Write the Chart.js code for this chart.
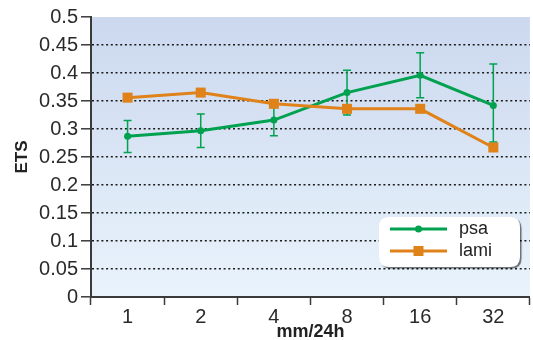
<!DOCTYPE html>
<html>
<head>
<meta charset="utf-8">
<script src="https://cdn.jsdelivr.net/npm/chart.js@4/dist/chart.umd.min.js"></script>
<style>
html,body{margin:0;padding:0;overflow:hidden;background:#fff;}
#wrap{width:537px;height:340px;position:relative;}
</style>
</head>
<body>
<div id="wrap"><canvas id="c"></canvas></div>
<script>
const categories = ['1', '2', '4', '8', '16', '32'];
const psaValues = [0.287, 0.297, 0.316, 0.365, 0.396, 0.342];
const psaLow    = [0.258, 0.267, 0.288, 0.325, 0.356, 0.277];
const psaHigh   = [0.315, 0.327, 0.345, 0.405, 0.436, 0.416];
const lamiValues = [0.356, 0.365, 0.345, 0.336, 0.336, 0.267];
const seriesNames = ['psa', 'lami'];
const xTitle = 'mm/24h';
const yTitle = 'ETS';
const yMin = 0, yMax = 0.5, yStep = 0.05;

const GREEN = '#00a14f';
const ORANGE = '#e0821a';
const FONT = '"Liberation Sans", Arial, sans-serif';

const bgPlugin = {
  id: 'bg',
  beforeDraw(chart) {
    const {ctx, chartArea: a} = chart;
    const g = ctx.createLinearGradient(0, a.top, 0, a.bottom);
    g.addColorStop(0, '#cbd8ee');
    g.addColorStop(1, '#e9f3fc');
    ctx.save();
    ctx.fillStyle = g;
    ctx.fillRect(a.left, a.top, a.right - a.left, a.bottom - a.top);
    ctx.restore();
  }
};

const errPlugin = {
  id: 'err',
  beforeDatasetsDraw(chart) {
    const {ctx} = chart;
    const xs = chart.scales.x, ys = chart.scales.y;
    ctx.save();
    ctx.strokeStyle = GREEN;
    ctx.lineWidth = 1.5;
    for (let i = 0; i < categories.length; i++) {
      const x = xs.getPixelForValue(i);
      const y1 = ys.getPixelForValue(psaLow[i]);
      const y2 = ys.getPixelForValue(psaHigh[i]);
      ctx.beginPath();
      ctx.moveTo(x, y1); ctx.lineTo(x, y2);
      ctx.moveTo(x - 4, y1); ctx.lineTo(x + 4, y1);
      ctx.moveTo(x - 4, y2); ctx.lineTo(x + 4, y2);
      ctx.stroke();
    }
    ctx.restore();
  }
};

function roundRect(ctx, x, y, w, h, r) {
  ctx.beginPath();
  ctx.moveTo(x + r, y);
  ctx.lineTo(x + w - r, y);
  ctx.quadraticCurveTo(x + w, y, x + w, y + r);
  ctx.lineTo(x + w, y + h - r);
  ctx.quadraticCurveTo(x + w, y + h, x + w - r, y + h);
  ctx.lineTo(x + r, y + h);
  ctx.quadraticCurveTo(x, y + h, x, y + h - r);
  ctx.lineTo(x, y + r);
  ctx.quadraticCurveTo(x, y, x + r, y);
  ctx.closePath();
}

const legendPlugin = {
  id: 'customLegend',
  afterDraw(chart) {
    const {ctx, chartArea: a} = chart;
    const bx = a.left + 288, by = a.top + 200, bw = 141, bh = 50;
    ctx.save();
    ctx.shadowColor = 'rgba(0,0,0,0.55)';
    ctx.shadowOffsetX = 1.5;
    ctx.shadowOffsetY = 1.5;
    ctx.shadowBlur = 1;
    ctx.fillStyle = '#ffffff';
    roundRect(ctx, bx, by, bw, bh, 10);
    ctx.fill();
    ctx.restore();
    const order = [0, 1];
    order.forEach((di, k) => {
      const ds = chart.data.datasets[di];
      const y = by + 12 + k * 22;
      ctx.save();
      ctx.strokeStyle = ds.borderColor;
      ctx.lineWidth = 3;
      ctx.beginPath();
      ctx.moveTo(bx + 11, y); ctx.lineTo(bx + 68, y);
      ctx.stroke();
      ctx.fillStyle = ds.borderColor;
      const cx = bx + 39.5;
      if (ds.pointStyle === 'rect') {
        ctx.fillRect(cx - 5, y - 5, 10, 10);
      } else {
        ctx.beginPath(); ctx.arc(cx, y, 3.5, 0, Math.PI * 2); ctx.fill();
      }
      ctx.fillStyle = '#222';
      ctx.font = '18px ' + FONT;
      ctx.textBaseline = 'middle';
      ctx.textAlign = 'left';
      ctx.fillText(ds.label, bx + 80, y);
      ctx.restore();
    });
  }
};

new Chart(document.getElementById('c'), {
  type: 'line',
  data: {
    labels: categories,
    datasets: [
      {
        label: seriesNames[0],
        data: psaValues,
        borderColor: GREEN,
        backgroundColor: GREEN,
        borderWidth: 3,
        pointStyle: 'circle',
        pointRadius: 3.5,
        pointBorderWidth: 0,
        tension: 0,
        order: 2
      },
      {
        label: seriesNames[1],
        data: lamiValues,
        borderColor: ORANGE,
        backgroundColor: ORANGE,
        borderWidth: 3,
        pointStyle: 'rect',
        pointRadius: 7.1,
        pointBorderWidth: 0,
        tension: 0,
        order: 1
      }
    ]
  },
  options: {
    responsive: true,
    maintainAspectRatio: false,
    animation: false,
    layout: {padding: {top: 17, right: 0, bottom: 0, left: 0}},
    plugins: {legend: {display: false}, tooltip: {enabled: false}},
    scales: {
      x: {
        offset: true,
        border: {color: '#3a3a3a', width: 2},
        grid: {offset: true, drawOnChartArea: false, drawTicks: true, tickLength: 8, tickColor: '#3a3a3a', tickWidth: 1.5},
        ticks: {color: '#2a2a2a', padding: 0, font: {family: FONT, size: 20}, maxRotation: 0},
        title: {display: true, text: xTitle, color: '#222', padding: {top: 0, bottom: 0},
          font: {family: FONT, size: 18, weight: 'bold', lineHeight: 0.9}},
        afterFit(s) { s.height = 43; s.paddingLeft = 0; s.paddingRight = 0; }
      },
      y: {
        min: yMin, max: yMax,
        border: {color: '#3a3a3a', width: 2, dash: [2, 2.7]},
        grid: {
          color: (c) => (c.tick && (Math.abs(c.tick.value) < 1e-9 || Math.abs(c.tick.value - yMax) < 1e-9)) ? 'rgba(0,0,0,0)' : '#1a1a1a',
          lineWidth: 1.6,
          tickBorderDash: [],
          tickLength: 10,
          tickColor: '#3a3a3a',
          tickWidth: 1.5
        },
        ticks: {
          stepSize: yStep,
          color: '#2a2a2a',
          padding: 3,
          font: {family: FONT, size: 20},
          callback: (v) => String(parseFloat(Number(v).toFixed(2)))
        },
        title: {display: true, text: yTitle, color: '#222', padding: {top: 12, bottom: 0},
          font: {family: FONT, size: 17, weight: 'bold', lineHeight: 1.2}},
        afterFit(s) { s.width = 91; s.paddingTop = 0; s.paddingBottom = 0; }
      }
    }
  },
  plugins: [bgPlugin, errPlugin, legendPlugin]
});
</script>
</body>
</html>
